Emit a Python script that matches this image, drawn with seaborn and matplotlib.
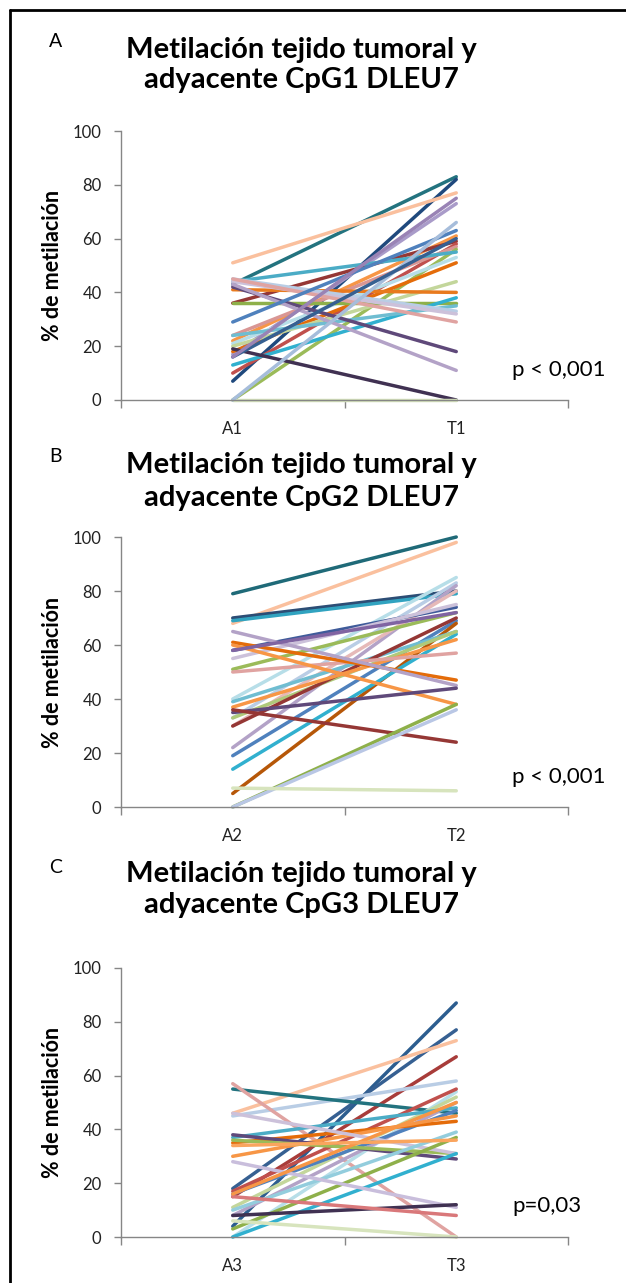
import matplotlib
matplotlib.use("Agg")
import matplotlib.pyplot as plt
from matplotlib.lines import Line2D
import pandas as pd
import seaborn as sns

# % methylation per patient: adjacent tissue (A) vs tumour tissue (T)
cpg1_adyacente = [43, 7, 51, 17, 22, 36, 10, 24, 0, 44, 21, 18, 20, 41, 36, 13,
                  24, 45, 44, 45, 42, 43, 19, 0, 29, 0, 16, 16]
cpg1_tumoral = [83, 82, 77, 73, 61, 59, 58, 57, 56, 55, 53, 51, 44, 40, 36, 38,
                35, 33, 32, 29, 18, 11, 0, 0, 63, 66, 60, 75]

cpg2_adyacente = [79, 68, 70, 69, 40, 33, 22, 30, 58, 55, 51, 19, 5, 14, 39, 33,
                  30, 37, 50, 61, 60, 65, 35, 36, 0, 0, 7, 58]
cpg2_tumoral = [100, 98, 80, 79, 85, 83, 82, 80, 74, 75, 72, 69, 68, 64, 65, 65,
                70, 62, 57, 47, 38, 45, 44, 24, 38, 36, 6, 72]

cpg3_adyacente = [4, 18, 46, 15, 45, 55, 57, 0, 17, 11, 8, 37, 16, 35, 30, 38,
                  36, 46, 10, 3, 0, 28, 8, 15, 6, 16, 34]
cpg3_tumoral = [87, 77, 73, 67, 58, 46, 0, 54, 55, 52, 50, 48, 47, 43, 45, 29,
                31, 31, 39, 37, 31, 11, 12, 8, 0, 50, 36]

etiquetas_x = [["A1", "T1"], ["A2", "T2"], ["A3", "T3"]]
titulos = ["adyacente CpG1 DLEU7", "adyacente CpG2 DLEU7", "adyacente CpG3 DLEU7"]
letras = ["A", "B", "C"]
p_valores = ["p < 0,001", "p < 0,001", "p=0,03"]

# line colours (Office-style series palette)
colores_1 = ["#23737F", "#1F497D", "#FAC09E", "#A99BC9", "#F79646", "#953735",
             "#C0504D", "#D99694", "#9BBB59", "#4BACC6", "#B7DEE8", "#E46C0A",
             "#C3D69B", "#E87A1E", "#8EB04A", "#31B0CF", "#6FBDD1", "#B9CDE5",
             "#CCC1DA", "#E0A3A1", "#5F497A", "#B3A2C7", "#403152", "#D7E4BD",
             "#4F81BD", "#A6BDDB", "#366092", "#9983B5"]
colores_2 = ["#1F6A78", "#FAC09E", "#2C4D75", "#31A3C0", "#B7DEE8", "#B9CDE5",
             "#B3A2C7", "#E6B9B8", "#3F5B9A", "#CCC1DA", "#9BBB59", "#4F81BD",
             "#B65708", "#31B0CF", "#6FBDD1", "#AFC97A", "#953735", "#F79646",
             "#E0A3A1", "#E46C0A", "#F79646", "#B3A2C7", "#5F497A", "#953735",
             "#8EB04A", "#B9C7E5", "#D7E4BD", "#8064A2"]
colores_3 = ["#2C5D8F", "#366092", "#FAC09E", "#A83C3A", "#B9CDE5", "#23737F",
             "#E0A3A1", "#B7DEE8", "#C0504D", "#C3D69B", "#B3A2C7", "#4BACC6",
             "#4F81BD", "#E46C0A", "#F79646", "#5F497A", "#9BBB59", "#CCC1DA",
             "#93CDDD", "#8EB04A", "#31B0CF", "#C9BEDC", "#403152", "#D9787A",
             "#D7E4BD", "#F79646", "#FAA55E"]

paneles = [(cpg1_adyacente, cpg1_tumoral, colores_1),
           (cpg2_adyacente, cpg2_tumoral, colores_2),
           (cpg3_adyacente, cpg3_tumoral, colores_3)]

sns.set_style("white")
plt.rcParams["font.family"] = ["Lato", "DejaVu Sans"]

W, H = 626, 1283
fig = plt.figure(figsize=(W / 100, H / 100), dpi=100)

# axes geometry in pixels: (top of 100 line, bottom at 0)
cajas = [(131, 400), (537, 807), (968, 1237)]
# title baselines (letter, line1, line2)
cabeceras = [(47, 58, 88), (462, 473, 506), (873, 882, 913)]
p_pos = [(605, 370), (605, 777), (582, 1206)]

gris = "#868686"
texto = "#222222"

for i, (adj, tum, cols) in enumerate(paneles):
    top, bot = cajas[i]
    ax = fig.add_axes([121 / W, 1 - bot / H, 447 / W, (bot - top) / H])
    n = len(adj)
    ids = [f"p{k:02d}" for k in range(n)]
    df = pd.DataFrame({
        "id": ids + ids,
        "muestra": [etiquetas_x[i][0]] * n + [etiquetas_x[i][1]] * n,
        "pct": list(adj) + list(tum),
    })
    sns.lineplot(data=df, x="muestra", y="pct", hue="id",
                 palette=dict(zip(ids, cols)), legend=False, sort=False,
                 estimator=None, errorbar=None, linewidth=2.5, ax=ax)
    for ln in ax.lines:
        ln.set_clip_on(False)
        ln.set_solid_capstyle("round")

    ax.set_xlim(-0.5, 1.5)
    ax.set_ylim(0, 100)
    ax.set_xlabel("")
    ax.set_ylabel("% de metilación", fontsize=15.5, fontweight="bold", color="black")
    ax.yaxis.set_label_coords(-0.154, 0.5)
    ax.yaxis.label.set_va("center")

    for s in ["top", "right"]:
        ax.spines[s].set_visible(False)
    for s in ["left", "bottom"]:
        ax.spines[s].set_color(gris)
        ax.spines[s].set_linewidth(1.0)

    ax.set_yticks(range(0, 101, 20))
    ax.tick_params(axis="y", length=5, width=1, color=gris, pad=9,
                   labelsize=12, labelcolor=texto, left=True)
    ax.set_xticks([-0.5, 0.5, 1.5])
    ax.set_xticklabels([])
    ax.set_xticks([0, 1], minor=True)
    ax.set_xticklabels(etiquetas_x[i], minor=True)
    ax.tick_params(axis="x", which="major", length=6, width=1, color=gris,
                   bottom=True)
    ax.tick_params(axis="x", which="minor", length=0, pad=15, labelsize=12,
                   labelcolor=texto)
    ax.grid(False)

    ax.text((p_pos[i][0] - 121) / 447, (bot - p_pos[i][1]) / (bot - top),
            p_valores[i], transform=ax.transAxes, ha="right", va="center",
            fontsize=16, color="black", clip_on=False)

    yl, y1, y2 = cabeceras[i]
    fig.text(49 / W, 1 - yl / H, letras[i], ha="left", va="baseline",
             fontsize=14, color="black")
    fig.text(301 / W, 1 - y1 / H, "Metilación tejido tumoral y", ha="center",
             va="baseline", fontsize=21, fontweight="bold", color="black")
    fig.text(301 / W, 1 - y2 / H, titulos[i], ha="center", va="baseline",
             fontsize=21, fontweight="bold", color="black")

# outer frame (left and top edges)
fig.add_artist(Line2D([10 / W, 10 / W], [0, 1 - 10 / H], transform=fig.transFigure,
                      color="black", linewidth=2))
fig.add_artist(Line2D([10 / W, 1], [1 - 10 / H, 1 - 10 / H], transform=fig.transFigure,
                      color="black", linewidth=2))

fig.savefig("out.png", dpi=100, facecolor="white")
